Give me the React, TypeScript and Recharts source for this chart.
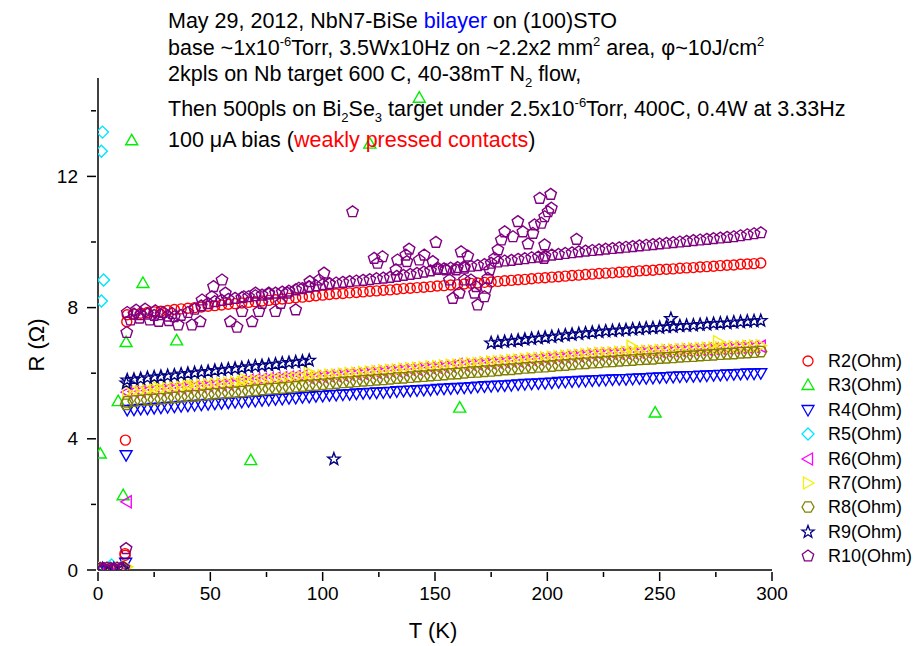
import React from "react";
import { ScatterChart, Scatter, XAxis, YAxis } from "recharts";

// common temperature sweep (K) for the dense channels
const tGrid = [
  13, 16, 19, 22, 25, 28, 31, 34, 37, 40,
  43, 46, 49, 52, 55, 58, 61, 64, 67, 70,
  73, 76, 79, 82, 85, 88, 91, 94, 97, 100,
  103, 106, 109, 112, 115, 118, 121, 124, 127, 130,
  133, 136, 139, 142, 145, 148, 151, 154, 157, 160,
  163, 166, 169, 172, 175, 178, 181, 184, 187, 190,
  193, 196, 199, 202, 205, 208, 211, 214, 217, 220,
  223, 226, 229, 232, 235, 238, 241, 244, 247, 250,
  253, 256, 259, 262, 265, 268, 271, 274, 277, 280,
  283, 286, 289, 292, 295,
];

const r2 = [
  7.78, 7.8, 7.83, 7.85, 7.87, 7.89, 7.91, 7.94, 7.96, 7.98,
  8.0, 8.02, 8.04, 8.06, 8.08, 8.1, 8.12, 8.14, 8.16, 8.18,
  8.2, 8.22, 8.24, 8.26, 8.28, 8.3, 8.32, 8.34, 8.36, 8.38,
  8.4, 8.42, 8.43, 8.45, 8.46, 8.48, 8.5, 8.51, 8.53, 8.54,
  8.56, 8.58, 8.59, 8.61, 8.62, 8.64, 8.66, 8.67, 8.69, 8.7,
  8.72, 8.74, 8.75, 8.77, 8.78, 8.8, 8.82, 8.83, 8.85, 8.86,
  8.88, 8.9, 8.91, 8.93, 8.94, 8.96, 8.98, 8.99, 9.01, 9.02,
  9.04, 9.05, 9.06, 9.08, 9.09, 9.1, 9.12, 9.13, 9.14, 9.16,
  9.17, 9.18, 9.2, 9.21, 9.22, 9.24, 9.25, 9.26, 9.28, 9.29,
  9.3, 9.32, 9.33, 9.34, 9.36,
];

const r4 = [
  4.88, 4.89, 4.91, 4.92, 4.94, 4.95, 4.97, 4.98, 5.0, 5.01,
  5.03, 5.04, 5.06, 5.07, 5.09, 5.1, 5.12, 5.13, 5.15, 5.16,
  5.18, 5.19, 5.21, 5.22, 5.24, 5.25, 5.27, 5.28, 5.3, 5.31,
  5.33, 5.34, 5.35, 5.36, 5.38, 5.39, 5.4, 5.41, 5.42, 5.43,
  5.45, 5.46, 5.47, 5.48, 5.49, 5.5, 5.52, 5.53, 5.54, 5.55,
  5.56, 5.57, 5.59, 5.6, 5.61, 5.62, 5.63, 5.64, 5.66, 5.67,
  5.68, 5.69, 5.7, 5.71, 5.73, 5.74, 5.75, 5.76, 5.77, 5.78,
  5.79, 5.8, 5.81, 5.82, 5.82, 5.83, 5.84, 5.85, 5.86, 5.87,
  5.88, 5.89, 5.9, 5.91, 5.91, 5.92, 5.93, 5.94, 5.95, 5.96,
  5.97, 5.98, 5.99, 5.99, 6.0,
];

const r6 = [
  5.42, 5.44, 5.45, 5.47, 5.49, 5.5, 5.52, 5.54, 5.55, 5.57,
  5.59, 5.6, 5.62, 5.64, 5.65, 5.67, 5.69, 5.76, 5.78, 5.8,
  5.81, 5.83, 5.85, 5.86, 5.88, 5.9, 5.91, 5.87, 5.89, 5.9,
  5.92, 5.93, 5.95, 5.97, 5.98, 6.0, 6.02, 6.03, 6.05, 6.07,
  6.08, 6.1, 6.12, 6.13, 6.15, 6.17, 6.18, 6.2, 6.22, 6.27,
  6.25, 6.27, 6.28, 6.3, 6.32, 6.33, 6.35, 6.37, 6.38, 6.4,
  6.42, 6.43, 6.45, 6.47, 6.48, 6.5, 6.52, 6.53, 6.55, 6.57,
  6.58, 6.59, 6.6, 6.61, 6.62, 6.63, 6.64, 6.65, 6.66, 6.67,
  6.68, 6.69, 6.7, 6.71, 6.72, 6.73, 6.74, 6.75, 6.76, 6.77,
  6.78, 6.79, 6.8, 6.81, 6.82,
];

const r7 = [
  5.44, 5.46, 5.47, 5.49, 5.51, 5.52, 5.54, 5.56, 5.57, 5.59,
  5.61, 5.62, 5.64, 5.66, 5.67, 5.69, 5.71, 5.72, 5.74, 5.76,
  5.77, 5.79, 5.81, 5.82, 5.84, 5.86, 5.87, 5.89, 5.91, 5.92,
  5.94, 5.95, 5.97, 5.99, 6.0, 6.02, 6.04, 6.05, 6.07, 6.09,
  6.1, 6.12, 6.14, 6.15, 6.17, 6.19, 6.2, 6.22, 6.24, 6.25,
  6.27, 6.29, 6.3, 6.32, 6.34, 6.35, 6.37, 6.39, 6.4, 6.42,
  6.44, 6.45, 6.47, 6.49, 6.5, 6.52, 6.54, 6.55, 6.57, 6.59,
  6.6, 6.61, 6.62, 6.63, 6.64, 6.65, 6.66, 6.67, 6.68, 6.69,
  6.7, 6.71, 6.72, 6.73, 6.74, 6.75, 6.76, 6.77, 6.78, 6.79,
  6.8, 6.81, 6.82, 6.83, 6.84,
];

const r8 = [
  5.13, 5.15, 5.17, 5.19, 5.2, 5.22, 5.24, 5.26, 5.28, 5.3,
  5.31, 5.33, 5.35, 5.37, 5.39, 5.41, 5.42, 5.44, 5.46, 5.48,
  5.5, 5.52, 5.53, 5.55, 5.57, 5.59, 5.61, 5.63, 5.64, 5.66,
  5.68, 5.7, 5.72, 5.73, 5.75, 5.77, 5.78, 5.8, 5.81, 5.83,
  5.85, 5.86, 5.88, 5.9, 5.91, 5.93, 5.94, 5.96, 5.98, 5.99,
  6.01, 6.03, 6.04, 6.06, 6.07, 6.09, 6.11, 6.12, 6.14, 6.16,
  6.17, 6.19, 6.2, 6.22, 6.24, 6.25, 6.27, 6.29, 6.3, 6.32,
  6.33, 6.35, 6.36, 6.38, 6.39, 6.4, 6.42, 6.43, 6.44, 6.46,
  6.47, 6.48, 6.5, 6.51, 6.52, 6.54, 6.55, 6.56, 6.58, 6.59,
  6.6, 6.62, 6.63, 6.64, 6.66,
];

// R9 has a gap between ~95 K and ~175 K
const r9 = [
  5.79, 5.81, 5.83, 5.86, 5.88, 5.9, 5.92, 5.94, 5.97, 5.99,
  6.01, 6.03, 6.05, 6.08, 6.1, 6.12, 6.14, 6.16, 6.19, 6.21,
  6.23, 6.25, 6.27, 6.3, 6.32, 6.34, 6.36, 6.39, null, null,
  null, null, null, null, null, null, null, null, null, null,
  null, null, null, null, null, null, null, null, null, null,
  null, null, null, null, 6.92, 6.94, 6.96, 6.98, 7.0, 7.03,
  7.05, 7.07, 7.09, 7.11, 7.13, 7.16, 7.18, 7.2, 7.22, 7.24,
  7.26, 7.28, 7.29, 7.31, 7.32, 7.34, 7.35, 7.37, 7.38, 7.39,
  7.41, 7.42, 7.44, 7.45, 7.46, 7.48, 7.49, 7.51, 7.52, 7.53,
  7.55, 7.56, 7.58, 7.59, 7.6,
];

const r10 = [
  7.85, 7.8, 7.78, 7.8, 7.76, 7.78, 7.74, 7.72, 7.76, 7.85,
  7.95, 8.05, 8.12, 8.18, 8.22, 8.25, 8.28, 8.3, 8.33, 8.36,
  8.38, 8.41, 8.44, 8.47, 8.5, 8.54, 8.58, 8.62, 8.66, 8.7,
  8.73, 8.75, 8.77, 8.79, 8.81, 8.83, 8.85, 8.88, 8.9, 8.92,
  8.95, 8.98, 9.01, 9.04, 9.08, 9.12, 9.16, 9.18, 9.2, 9.22,
  9.24, 9.26, 9.28, 9.31, 9.35, 9.39, 9.42, 9.44, 9.47, 9.49,
  9.52, 9.54, 9.57, 9.6, 9.62, 9.65, 9.67, 9.7, 9.72, 9.74,
  9.76, 9.78, 9.8, 9.82, 9.84, 9.86, 9.88, 9.9, 9.92, 9.94,
  9.96, 9.98, 10.0, 10.02, 10.04, 10.06, 10.08, 10.1, 10.12, 10.14,
  10.16, 10.19, 10.22, 10.25, 10.28,
];

// [T, R] points off the common sweep: superconducting tail, transition, outliers
const r2Extra = [[1, 0.03], [4, 0.03], [7, 0.03], [10, 0.03], [12, 0.5], [12.1, 0.45], [12.2, 3.96], [12.8, 7.57]];
const r3Points = [
  [1, 3.55], [3, 0.03], [6, 0.03], [9, 5.15], [11.2, 2.28], [12.5, 6.95], [15, 13.1], [20, 8.75],
  [35, 7.0], [68, 3.35], [121, 13.0], [143, 14.4], [161, 4.95], [248, 4.8],
];
const r4Extra = [[1, 0.03], [4, 0.03], [7, 0.03], [10, 0.03], [12.3, 0.22], [12.5, 3.5]];
const r5Points = [[1.5, 12.77], [2, 13.35], [2.5, 8.84], [1.5, 8.2], [6, 0.15]];
const r6Extra = [[1, 0.03], [5, 0.03], [9, 0.03], [12.8, 2.08]];
const r7Extra = [
  [2, 0.05], [6, 0.03], [10, 0.05], [12.8, 0.1],
  [25.4, 5.6], [40, 5.66], [64.8, 5.82], [93.8, 6.02], [237.5, 6.82], [276, 6.96],
];
const r8Extra = [[1, 0.03], [6, 0.03], [11, 0.03], [12.6, 5.05]];
const r9Extra = [[2, 0.03], [7, 0.03], [11, 0.03], [12.6, 5.7], [105, 3.38], [255, 7.66]];
const r10Extra = [
  [1, 0.05], [2.5, 0.04], [4, 0.06], [5.5, 0.05], [7, 0.04], [8.5, 0.06], [10, 0.05], [11.5, 0.07],
  [12.5, 0.65], [12.8, 7.24],
  [14.5, 7.62], [17, 7.92], [18.5, 7.68], [21, 7.95], [23, 7.62], [25.5, 7.9], [27, 7.58], [29, 7.85],
  [31.5, 7.6], [33, 7.82], [35.7, 7.47], [41.8, 7.47], [45.5, 7.57], [46.3, 8.23], [50.7, 8.33],
  [51.4, 8.64], [55.2, 8.84], [56.7, 8.44], [58.9, 7.57], [61.9, 7.4], [64.1, 7.88], [64.9, 8.33],
  [68.6, 7.57], [70.1, 8.44], [71.6, 7.88], [73, 8.13], [76, 8.44], [79, 7.88], [81.3, 8.13],
  [84.2, 8.44], [88, 7.93], [89.4, 8.59], [93.9, 8.64], [94.3, 8.79], [98.4, 8.84], [100.6, 9.05],
  [103, 8.72], [113.3, 10.92], [122.9, 9.5], [124.4, 9.35], [126.6, 9.55], [132.6, 9.15],
  [133.3, 9.45], [137, 9.6], [137.5, 9.4], [138.5, 9.78], [143, 9.45], [145.2, 9.6], [149, 9.4],
  [150.4, 9.99], [151.2, 9.2], [154.9, 9.15], [156.4, 8.84], [157.9, 8.28], [159.4, 9.15],
  [160.8, 8.44], [161.6, 9.7], [163.1, 9.2], [163.1, 8.84], [164.6, 9.57], [166, 8.84], [167.6, 8.44],
  [168.3, 8.64], [169, 8.08], [172, 8.33], [172.8, 8.59], [173.5, 8.89], [174.3, 9.15], [176.5, 9.5],
  [178, 9.76], [179.5, 10.06], [181, 10.31], [184.7, 10.16], [186.9, 10.62], [189.1, 10.31],
  [191.4, 9.94], [193.6, 10.26], [194.3, 10.52], [196.6, 11.33], [197.3, 10.57], [198.5, 9.5],
  [198.8, 9.91], [198.8, 10.77], [200.3, 10.92], [201.5, 11.45], [201.8, 11.03], [213, 10.08],
];

const xTicks = [0, 25, 50, 75, 100, 125, 150, 175, 200, 225, 250, 275, 300];
const yTicks = [0, 2, 4, 6, 8, 10, 12, 14];

const FONT = "'Liberation Sans', Arial, sans-serif";

type Kind = "circle" | "up" | "down" | "diamond" | "left" | "right" | "hexagon" | "star" | "pentagon";

const SHAPES: Record<string, number[][]> = {
  up: [[0, -6], [6, 4.5], [-6, 4.5]],
  down: [[0, 6], [6, -4.5], [-6, -4.5]],
  left: [[-6, 0], [4.5, -6], [4.5, 6]],
  right: [[6, 0], [-4.5, -6], [-4.5, 6]],
  diamond: [[0, -6], [6, 0], [0, 6], [-6, 0]],
  hexagon: [[-6, 0], [-3, -5.2], [3, -5.2], [6, 0], [3, 5.2], [-3, 5.2]],
  pentagon: [[0, -6], [5.71, -1.85], [3.53, 4.85], [-3.53, 4.85], [-5.71, -1.85]],
  star: [
    [0, -6.5], [1.59, -2.18], [6.18, -2.01], [2.57, 0.83], [3.82, 5.26],
    [0, 2.7], [-3.82, 5.26], [-2.57, 0.83], [-6.18, -2.01], [-1.59, -2.18],
  ],
};

function Marker({ kind, cx, cy, color, sw = 1.4 }: { kind: Kind; cx: number; cy: number; color: string; sw?: number }) {
  if (cx == null || cy == null) return null;
  if (kind === "circle") {
    return <circle cx={cx} cy={cy} r={5} fill="none" stroke={color} strokeWidth={sw} />;
  }
  const pts = SHAPES[kind].map(([dx, dy]) => `${cx + dx},${cy + dy}`).join(" ");
  return <polygon points={pts} fill="none" stroke={color} strokeWidth={sw} />;
}

const onGrid = (vals: (number | null)[]) =>
  tGrid
    .map((t, i) => (vals[i] == null ? null : { t, r: vals[i] as number }))
    .filter((p): p is { t: number; r: number } => p !== null);
const pairs = (list: number[][]) => list.map(([t, r]) => ({ t, r }));

const series: { name: string; color: string; kind: Kind; data: { t: number; r: number }[] }[] = [
  { name: "R2(Ohm)", color: "#ff0000", kind: "circle", data: [...pairs(r2Extra), ...onGrid(r2)] },
  { name: "R3(Ohm)", color: "#00ee00", kind: "up", data: pairs(r3Points) },
  { name: "R4(Ohm)", color: "#0000ff", kind: "down", data: [...pairs(r4Extra), ...onGrid(r4)] },
  { name: "R5(Ohm)", color: "#00e5ff", kind: "diamond", data: pairs(r5Points) },
  { name: "R6(Ohm)", color: "#ff00ff", kind: "left", data: [...pairs(r6Extra), ...onGrid(r6)] },
  { name: "R7(Ohm)", color: "#f2f200", kind: "right", data: [...pairs(r7Extra), ...onGrid(r7)] },
  { name: "R8(Ohm)", color: "#808000", kind: "hexagon", data: [...pairs(r8Extra), ...onGrid(r8)] },
  { name: "R9(Ohm)", color: "#000080", kind: "star", data: [...pairs(r9Extra), ...onGrid(r9)] },
  { name: "R10(Ohm)", color: "#800080", kind: "pentagon", data: [...pairs(r10Extra), ...onGrid(r10)] },
];

const XTick = (props: any) => {
  const { x, y, payload } = props;
  const major = payload.value % 50 === 0;
  return (
    <g>
      <line x1={x} x2={x} y1={y} y2={y + (major ? 9 : 5)} stroke="#000" strokeWidth={1.5} />
      {major && (
        <text x={x} y={y + 21} textAnchor="middle" dominantBaseline="central" fontSize={19} fontFamily={FONT} fill="#000">
          {payload.value}
        </text>
      )}
    </g>
  );
};

const YTick = (props: any) => {
  const { x, y, payload } = props;
  const major = payload.value % 4 === 0;
  return (
    <g>
      <line x1={x} x2={x - (major ? 9 : 5)} y1={y} y2={y} stroke="#000" strokeWidth={1.5} />
      {major && (
        <text x={x - 18} y={y} textAnchor="end" dominantBaseline="central" fontSize={19} fontFamily={FONT} fill="#000">
          {payload.value}
        </text>
      )}
    </g>
  );
};

// sub/superscripts shifted without changing the line box
const sub: React.CSSProperties = { fontSize: 13, position: "relative", top: 6, lineHeight: 0 };
const sup: React.CSSProperties = { fontSize: 13, position: "relative", top: -9, lineHeight: 0 };

const titleLines: React.ReactNode[] = [
  <>May 29, 2012, NbN7-BiSe <span style={{ color: "#0000ff" }}>bilayer</span> on (100)STO</>,
  <>base ~1x10<span style={sup}>-6</span>Torr, 3.5Wx10Hz on ~2.2x2 mm<span style={sup}>2</span> area, φ~10J/cm<span style={sup}>2</span></>,
  <>2kpls on Nb target 600 C, 40-38mT N<span style={sub}>2</span> flow,</>,
  <>Then 500pls on Bi<span style={sub}>2</span>Se<span style={sub}>3</span> target under 2.5x10<span style={sup}>-6</span>Torr, 400C, 0.4W at 3.33Hz</>,
  <>100 μA bias (<span style={{ color: "#ff0000" }}>weakly pressed contacts</span>)</>,
];
const titleTops = [2, 29, 55, 90, 121];

export default function App() {
  return (
    <div style={{ position: "relative", width: 906, height: 638, fontFamily: FONT, background: "#fff" }}>
      <ScatterChart width={906} height={630} margin={{ top: 70, right: 142, bottom: 38, left: 30 }}>
        <XAxis
          type="number"
          dataKey="t"
          domain={[0, 300]}
          ticks={xTicks}
          interval={0}
          allowDataOverflow
          tickSize={0}
          tickLine={false}
          height={30}
          axisLine={{ stroke: "#000", strokeWidth: 1.5 }}
          tick={XTick}
        />
        <YAxis
          type="number"
          dataKey="r"
          domain={[0, 15]}
          ticks={yTicks}
          interval={0}
          allowDataOverflow
          tickSize={0}
          tickLine={false}
          width={60}
          axisLine={{ stroke: "#000", strokeWidth: 1.5 }}
          tick={YTick}
        />
        {series.map((s) => (
          <Scatter
            key={s.name}
            name={s.name}
            data={s.data}
            isAnimationActive={false}
            shape={(p: any) => <Marker kind={s.kind} cx={p.cx} cy={p.cy} color={s.color} />}
          />
        ))}
      </ScatterChart>

      {titleLines.map((line, i) => (
        <div
          key={i}
          style={{ position: "absolute", left: 160, top: titleTops[i], fontSize: 21.5, lineHeight: "22px", whiteSpace: "nowrap", color: "#000" }}
        >
          {line}
        </div>
      ))}

      <div style={{ position: "absolute", left: 29, top: 337, transform: "translate(-50%, -50%) rotate(-90deg)", fontSize: 22, lineHeight: "24px", whiteSpace: "nowrap" }}>
        R (Ω)
      </div>
      <div style={{ position: "absolute", left: 425, top: 611, transform: "translateX(-50%)", fontSize: 22, lineHeight: "24px", whiteSpace: "nowrap" }}>
        T (K)
      </div>

      {series.map((s, i) => (
        <div key={s.name} style={{ position: "absolute", left: 790, top: 353 + i * 24.4 - 11, height: 22, display: "flex", alignItems: "center" }}>
          <svg width={20} height={22} style={{ display: "block" }}>
            <Marker kind={s.kind} cx={10} cy={11} color={s.color} sw={1.3} />
          </svg>
          <span style={{ marginLeft: 10, fontSize: 18, lineHeight: "22px", whiteSpace: "nowrap" }}>{s.name}</span>
        </div>
      ))}
    </div>
  );
}
